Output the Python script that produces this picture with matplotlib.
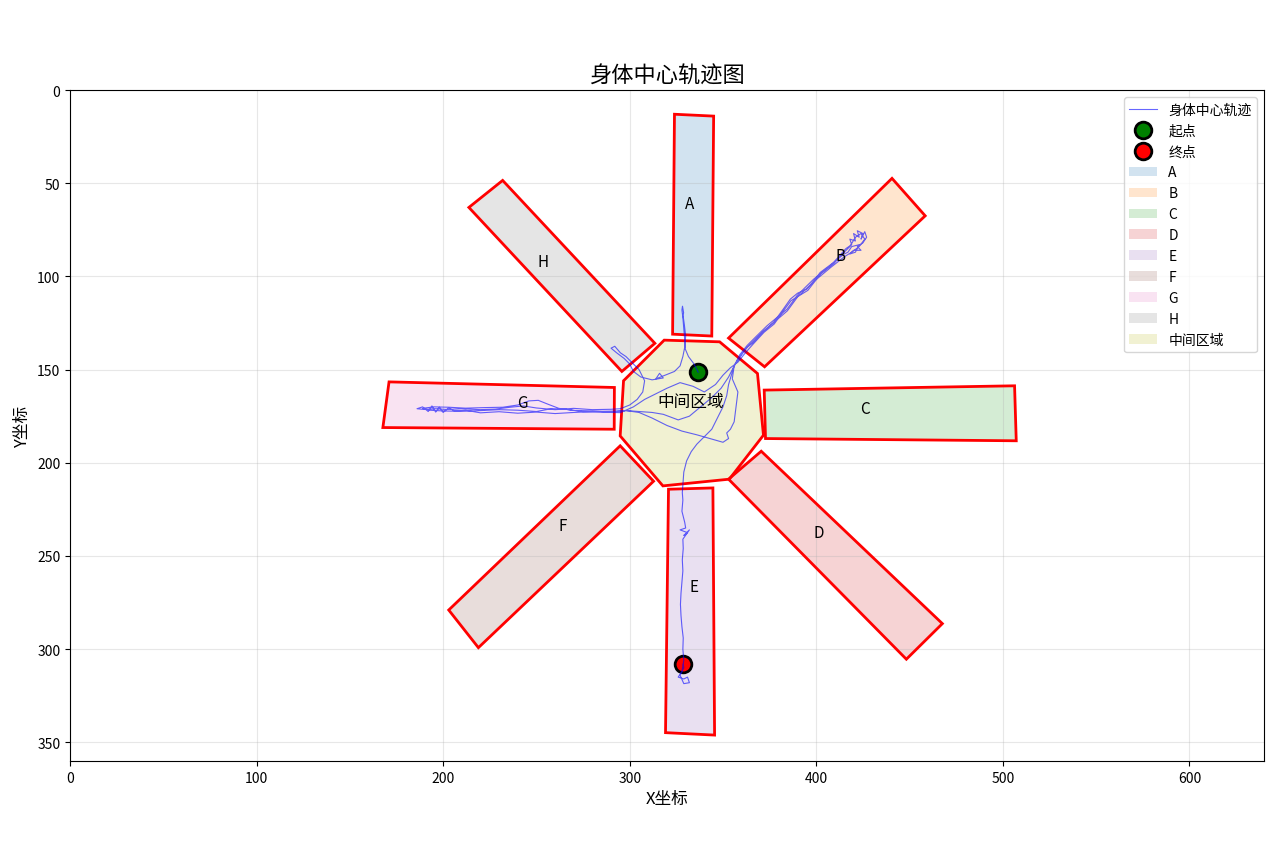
import matplotlib
matplotlib.use("Agg")
import matplotlib.pyplot as plt
from matplotlib.patches import Polygon

plt.rcParams['font.family'] = ['Noto Sans CJK SC', 'DejaVu Sans']
plt.rcParams['axes.unicode_minus'] = False

# ---- region data ----
arm_names = ['A', 'B', 'C', 'D', 'E', 'F', 'G', 'H']
arm_A = [(324, 13), (345, 14), (344, 132), (323, 131)]
arm_B = [(440.6, 47.4), (458.4, 67.5), (372.3, 148.5), (353.0, 133.1)]
arm_C = [(372.1, 161.0), (506.3, 158.7), (507.2, 188.2), (372.8, 187.0)]
arm_D = [(370.5, 193.8), (467.6, 286.3), (448.3, 305.4), (353.0, 208.8)]
arm_E = [(320.8, 214.2), (344.6, 213.5), (345.5, 346.1), (319.2, 344.8)]
arm_F = [(294.9, 190.9), (312.8, 209.9), (218.9, 299.2), (203.0, 279.0)]
arm_G = [(171.0, 156.6), (291.8, 159.6), (291.7, 182.0), (167.7, 181.1)]
arm_H = [(231.9, 48.5), (213.8, 63.0), (295.8, 151.0), (313.5, 135.9)]
center_region = [(318.5, 134.2), (348.2, 135.1), (368.5, 152.1), (371.7, 185.2),
                 (353.4, 208.8), (317.8, 212.4), (294.9, 185.6), (296.7, 156.0)]
center_name = '中间区域'

label_x = [331.9, 412.9, 426.3, 401.6, 334.6, 264.3, 242.3, 253.6]
label_y = [60.7, 88.6, 170.7, 237.3, 266.2, 233.5, 167.5, 91.8]
center_label = (332.4, 166.9)

# ---- trajectory (body centre) ----
traj = [
    (336.7, 151.4), (334.5, 147.0), (331.5, 143.0), (329.8, 139.0), (329.5, 134.0),
    (329.0, 128.0), (328.5, 122.0), (328.0, 118.0), (328.3, 116.0), (328.9, 119.5),
    (328.6, 121.0), (329.3, 126.0), (330.0, 132.0), (329.5, 138.0), (328.5, 143.0),
    (327.0, 148.0), (324.0, 151.0), (319.0, 153.0), (314.0, 155.0), (316.0, 152.0),
    (318.0, 154.5), (312.0, 155.5), (306.0, 154.0), (302.0, 151.0), (300.0, 147.0),
    (297.0, 144.0), (293.0, 141.0), (290.0, 138.5), (292.0, 137.5), (295.0, 141.0),
    (298.0, 143.0), (301.0, 146.0), (305.0, 150.0), (308.0, 156.0), (307.0, 162.0),
    (304.0, 166.0), (300.0, 169.0), (295.0, 171.0),
    # G arm excursion 1
    (290.0, 171.3), (280.0, 171.5), (270.0, 170.8), (260.0, 171.5), (250.0, 170.6),
    (243.0, 169.5), (236.0, 170.2), (228.0, 171.2), (220.0, 171.5), (210.0, 171.0),
    (202.0, 171.4), (196.0, 171.0), (190.0, 171.4), (186.0, 171.0), (189.0, 170.0),
    (192.0, 172.5), (194.0, 169.5), (196.0, 172.8), (198.0, 170.2), (200.0, 173.0),
    (203.0, 170.5), (206.0, 172.2), (212.0, 171.8), (220.0, 173.2), (230.0, 172.6),
    (240.0, 173.4), (250.0, 172.8), (260.0, 173.6), (270.0, 173.0), (280.0, 172.5),
    (290.0, 172.3), (298.0, 172.0),
    # back through centre to B
    (305.0, 173.0), (312.0, 176.0), (320.0, 180.0), (328.0, 183.0), (336.0, 185.0),
    (343.0, 187.0), (350.0, 189.0), (353.0, 187.0), (352.0, 184.0), (354.0, 182.0),
    (356.0, 178.0), (357.0, 170.0), (358.0, 162.0), (355.0, 155.0), (356.0, 148.0),
    (360.0, 142.0), (363.0, 138.0), (366.4, 135.4), (371.0, 130.0), (377.1, 124.7),
    (382.0, 118.0), (386.1, 112.2), (390.0, 109.0), (395.0, 106.8), (399.0, 102.0),
    (402.1, 97.9), (406.0, 95.0), (409.3, 92.5), (412.0, 89.5), (415.0, 86.0),
    # B cluster
    (416.0, 85.0), (419.0, 83.0), (418.0, 80.0), (421.0, 81.0), (420.0, 77.0),
    (423.0, 79.0), (422.0, 75.5), (425.0, 77.0), (424.0, 80.0), (426.0, 76.0),
    (427.0, 79.0), (425.0, 82.0), (422.0, 84.0), (424.0, 86.0), (420.0, 86.0),
    (418.0, 88.0), (421.0, 87.0), (423.0, 83.0), (419.0, 84.0), (417.0, 87.0),
    # return (lower strand)
    (415.0, 88.0), (411.0, 91.0), (407.5, 94.3), (403.0, 98.0), (398.6, 101.5),
    (394.0, 106.0), (389.6, 110.4), (387.0, 114.0), (384.3, 117.6), (379.0, 122.0),
    (373.6, 126.5), (368.0, 132.0), (363.0, 137.0), (359.0, 142.0), (356.0, 148.0),
    (353.0, 154.0), (349.0, 160.0), (344.0, 165.0), (338.0, 170.0), (332.0, 175.0),
    (326.0, 177.0), (318.0, 174.0), (312.0, 173.0), (305.0, 172.5), (298.0, 172.0),
    # G arm excursion 2
    (290.0, 172.8), (280.0, 172.2), (270.0, 171.9), (262.0, 170.8), (256.0, 168.5),
    (251.0, 166.5), (246.0, 166.8), (240.0, 169.0), (232.0, 170.2), (222.0, 170.4),
    (212.0, 170.7), (203.0, 170.2), (195.0, 170.0), (189.0, 170.8), (193.0, 171.8),
    (200.0, 172.2), (210.0, 172.4), (220.0, 172.0), (230.0, 171.5), (240.0, 171.8),
    (250.0, 172.5), (258.0, 171.0), (265.0, 171.2), (275.0, 172.6), (285.0, 172.9),
    (295.0, 173.1),
    # centre, second trip to B
    (302.0, 170.0), (308.0, 166.0), (314.0, 163.0), (320.0, 160.0), (327.0, 157.0),
    (334.0, 159.0), (340.0, 162.0), (346.0, 158.0), (350.0, 153.0), (354.0, 149.0),
    (358.0, 146.0), (362.0, 141.0), (366.0, 136.5), (372.0, 130.0), (377.5, 125.5),
    (382.0, 119.0), (386.5, 113.0), (395.5, 107.5), (402.5, 98.5), (409.5, 93.0),
    (414.0, 88.0), (418.0, 84.0), (421.0, 79.0), (424.0, 77.0), (426.0, 80.0),
    (423.0, 84.0), (419.0, 87.0), (415.0, 89.5), (408.0, 95.0), (399.0, 102.5),
    (390.0, 111.0), (384.5, 118.5), (374.0, 127.5), (368.0, 133.0), (363.0, 138.0),
    (359.0, 143.0), (356.0, 148.0),
    (353.0, 158.0), (352.0, 164.0), (350.0, 170.0), (347.0, 176.0), (344.0, 182.0),
    (340.0, 186.0), (336.0, 190.0), (333.0, 194.0), (330.5, 199.0), (329.0, 205.0),
    # E arm
    (328.5, 212.0), (328.2, 216.0), (328.5, 220.0), (328.0, 226.0), (329.5, 232.0),
    (330.0, 235.0), (327.0, 236.0), (331.0, 237.5), (329.0, 239.0), (332.0, 236.0),
    (328.5, 241.0), (328.7, 246.0), (328.2, 252.0), (328.5, 258.0), (328.0, 264.0),
    (327.5, 270.0), (327.2, 276.0), (327.5, 282.0), (328.0, 288.0), (328.7, 294.0),
    (328.5, 300.0), (329.0, 306.0), (328.0, 312.0), (326.0, 315.0), (329.0, 316.0),
    (331.0, 315.0), (332.0, 318.0), (329.0, 318.5), (327.0, 314.0), (329.0, 310.0),
    (328.7, 308.1),
]
traj_x = [p[0] for p in traj]
traj_y = [p[1] for p in traj]

arms = [arm_A, arm_B, arm_C, arm_D, arm_E, arm_F, arm_G, arm_H]
arm_colors = ['tab:blue', 'tab:orange', 'tab:green', 'tab:red',
              'tab:purple', 'tab:brown', 'tab:pink', 'tab:gray']

fig = plt.figure(figsize=(12.8, 8.53), dpi=100)
ax = fig.add_axes([0.0547, 0.1067, 0.9328, 0.7866])

ax.plot(traj_x, traj_y, color='blue', alpha=0.6, linewidth=0.8, label='身体中心轨迹', zorder=5)
ax.plot(traj_x[0], traj_y[0], 'o', color='green', markersize=12, markeredgecolor='black',
        markeredgewidth=2, label='起点', zorder=4)
ax.plot(traj_x[-1], traj_y[-1], 'o', color='red', markersize=12, markeredgecolor='black',
        markeredgewidth=2, label='终点', zorder=4)

for name, verts, col, lx, ly in zip(arm_names, arms, arm_colors, label_x, label_y):
    ax.add_patch(Polygon(verts, closed=True, facecolor=col, alpha=0.2, edgecolor='none',
                         label=name, zorder=1))
    ax.add_patch(Polygon(verts, closed=True, fill=False, edgecolor='red', linewidth=2, zorder=2))
    ax.text(lx, ly, name, ha='center', va='center', fontsize=11, zorder=6)

ax.add_patch(Polygon(center_region, closed=True, facecolor='tab:olive', alpha=0.2,
                     edgecolor='none', label=center_name, zorder=1))
ax.add_patch(Polygon(center_region, closed=True, fill=False, edgecolor='red', linewidth=2, zorder=2))
ax.text(center_label[0], center_label[1], center_name, ha='center', va='center',
        fontsize=12, zorder=6)

ax.set_xlim(0, 640)
ax.set_ylim(360, 0)
ax.set_xlabel('X坐标', fontsize=12)
ax.set_ylabel('Y坐标', fontsize=12)
ax.set_title('身体中心轨迹图', fontsize=16)
ax.grid(True, alpha=0.3)
ax.legend(loc='upper right', fontsize=10)

fig.savefig('out.png', dpi=100)
